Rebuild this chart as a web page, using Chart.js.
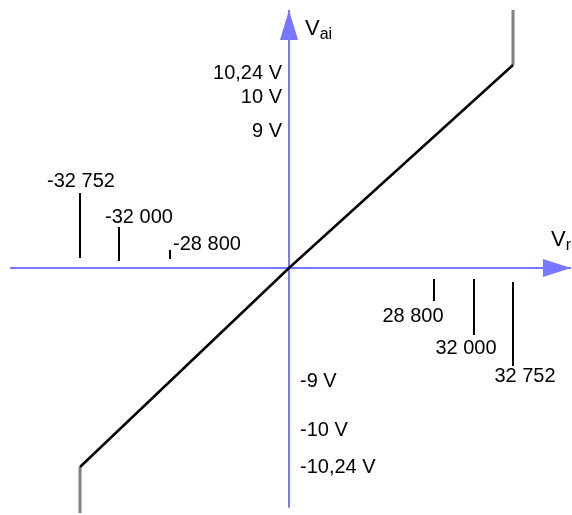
<!DOCTYPE html>
<html>
<head>
<meta charset="utf-8">
<script src="https://cdn.jsdelivr.net/npm/chart.js@4.4.1/dist/chart.umd.min.js"></script>
<style>
html, body { margin: 0; padding: 0; background: #fff; }
#wrap { width: 572px; height: 515px; position: relative; }
</style>
</head>
<body>
<div id="wrap"><canvas id="myChart"></canvas></div>
<script>
// Vr (code) -> Vai (volts) transfer line, saturates at the ends
var codeEnds = [-32752, 0, 32752];
var voltEnds = [-10.24, 0, 10.24];
var clampVolt = [-12, 12];

// axis extents
var axisCode = [-41000, 41000];
var axisVolt = [-11.8, 12];

// labelled marks on the Vr axis
var codeTicks = [-32752, -32000, -28800, 28800, 32000, 32752];
var codeTickLabels = ['-32 752', '-32 000', '-28 800', '28 800', '32 000', '32 752'];

// labelled levels on the Vai axis
var voltTicks = [10.24, 10, 9, -9, -10, -10.24];
var voltTickLabels = ['10,24 V', '10 V', '9 V', '-9 V', '-10 V', '-10,24 V'];

var axisColor = '#7777ff';
var FONT = '"Liberation Sans", Arial, sans-serif';

// the diagram is not to scale: each axis is stretched piecewise
// [value, pixel offset from the start of the chart area]
var axisStops = {
	x: [[-41000, 10], [-32752, 80], [-32000, 119], [-28800, 170], [0, 289],
		[28800, 434], [32000, 474], [32752, 513], [41000, 571]],
	y: [[12, 10], [10.24, 65], [10, 97], [9, 131], [0, 268],
		[-9, 381], [-10, 430], [-10.24, 467], [-12, 513]]
};

class SchematicScale extends Chart.LinearScale {
	_place(v) {
		var s = axisStops[this.id].slice().sort(function(a, b) { return a[0] - b[0]; });
		var i = 1;
		while (i < s.length - 1 && v > s[i][0]) i++;
		var a = s[i - 1], b = s[i];
		return a[1] + (v - a[0]) * (b[1] - a[1]) / (b[0] - a[0]);
	}
	getPixelForValue(v) {
		return (this.isHorizontal() ? this.left : this.top) + this._place(v);
	}
	getValueForPixel(p) {
		var s = axisStops[this.id];
		var off = p - (this.isHorizontal() ? this.left : this.top);
		for (var i = 1; i < s.length; i++) {
			var a = s[i - 1], b = s[i];
			if ((off - a[1]) * (off - b[1]) <= 0) {
				return a[0] + (off - a[1]) * (b[0] - a[0]) / (b[1] - a[1]);
			}
		}
		return 0;
	}
}
SchematicScale.id = 'schematic';
SchematicScale.defaults = Chart.LinearScale.defaults;
Chart.register(SchematicScale);

// arrow head image, tip sits on the point it is drawn at
function arrowHead(len, half, dir) {
	var c = document.createElement('canvas');
	var g = c.getContext('2d');
	if (dir == 'right') {
		c.width = len * 2; c.height = half * 2;
		g.moveTo(len, half); g.lineTo(0, 0); g.lineTo(0, half * 2);
	} else {
		c.width = half * 2; c.height = len * 2;
		g.moveTo(half, len); g.lineTo(0, len * 2); g.lineTo(half * 2, len * 2);
	}
	g.closePath();
	g.fillStyle = axisColor;
	g.fill();
	return c;
}

var annotate = {
	id: 'annotate',
	afterDatasetsDraw: function(chart, args, opts) {
		var ctx = chart.ctx;
		var xs = chart.scales.x, ys = chart.scales.y;
		var x0 = xs.getPixelForValue(0), y0 = ys.getPixelForValue(0);

		ctx.save();
		ctx.fillStyle = '#000';
		ctx.strokeStyle = '#000';
		ctx.lineWidth = 2;
		ctx.font = '20px ' + FONT;
		ctx.textBaseline = 'middle';

		// code marks with their values
		codeTicks.forEach(function(v, i) {
			var px = Math.round(xs.getPixelForValue(v));
			var lay = opts.codeLayout[i];
			ctx.beginPath();
			ctx.moveTo(px, y0 + lay.span[0]);
			ctx.lineTo(px, y0 + lay.span[1]);
			ctx.stroke();
			ctx.textAlign = 'center';
			ctx.fillText(codeTickLabels[i], px + lay.label[0], y0 + lay.label[1]);
		});

		// voltage levels, right of the axis when negative
		voltTicks.forEach(function(v, i) {
			var py = ys.getPixelForValue(v) + opts.voltShift[i];
			if (v > 0) {
				ctx.textAlign = 'right';
				ctx.fillText(voltTickLabels[i], x0 - 7, py);
			} else {
				ctx.textAlign = 'left';
				ctx.fillText(voltTickLabels[i], x0 + 11, py);
			}
		});

		// axis names
		ctx.textAlign = 'left';
		ctx.textBaseline = 'alphabetic';
		var tx = x0 + 16, ty = ys.getPixelForValue(axisVolt[1]) + 25;
		ctx.font = '22px ' + FONT;
		ctx.fillText('V', tx, ty);
		tx += ctx.measureText('V').width;
		ctx.font = '16px ' + FONT;
		ctx.fillText('ai', tx, ty + 4);

		tx = xs.getPixelForValue(axisCode[1]) - 20;
		ty = y0 - 22;
		ctx.font = '22px ' + FONT;
		ctx.fillText('V', tx, ty);
		tx += ctx.measureText('V').width;
		ctx.font = '16px ' + FONT;
		ctx.fillText('r', tx, ty + 4);

		ctx.restore();
	}
};

function pts(xs, ys) {
	return xs.map(function(x, i) { return {x: x, y: ys[i]}; });
}

var _config = {
	type: 'line',
	data: {
		datasets: [
			{
				// transfer line
				data: pts(codeEnds, voltEnds),
				borderColor: '#000',
				borderWidth: 2.5,
				pointRadius: 0,
				order: 0
			},
			{
				data: pts([codeEnds[2], codeEnds[2]], [voltEnds[2], clampVolt[1]]),
				borderColor: '#808080',
				borderWidth: 3,
				pointRadius: 0,
				order: 1
			},
			{
				data: pts([codeEnds[0], codeEnds[0]], [voltEnds[0], clampVolt[0]]),
				borderColor: '#808080',
				borderWidth: 3,
				pointRadius: 0,
				order: 1
			},
			{
				// Vr axis
				data: pts(axisCode, [0, 0]),
				borderColor: axisColor,
				borderWidth: 2,
				pointRadius: [0, 2],
				pointStyle: arrowHead(28, 9, 'right'),
				order: 2
			},
			{
				// Vai axis
				data: pts([0, 0], axisVolt),
				borderColor: axisColor,
				borderWidth: 2,
				pointRadius: [0, 2],
				pointStyle: arrowHead(30, 9, 'up'),
				order: 2
			}
		]
	},
	options: {
		responsive: true,
		maintainAspectRatio: false,
		animation: false,
		events: [],
		layout: { padding: 0, autoPadding: false },
		elements: { line: { tension: 0, fill: false, borderCapStyle: 'butt' } },
		plugins: {
			legend: { display: false },
			tooltip: { enabled: false },
			annotate: {
				codeLayout: [
					{ span: [-75, -10], label: [1, -87] },
					{ span: [-41, -7], label: [20, -51] },
					{ span: [-18, -9], label: [37, -24] },
					{ span: [11, 33], label: [-21, 48] },
					{ span: [11, 67], label: [-8, 80] },
					{ span: [14, 98], label: [12, 108] }
				],
				voltShift: [8, 0, 0, 0, 0, 0]
			}
		},
		scales: {
			x: { type: 'schematic', display: false, min: axisCode[0], max: axisCode[1] },
			y: { type: 'schematic', display: false, min: clampVolt[0], max: clampVolt[1] }
		}
	},
	plugins: [annotate]
};

var myChart = new Chart(document.getElementById('myChart'), _config);
</script>
</body>
</html>
